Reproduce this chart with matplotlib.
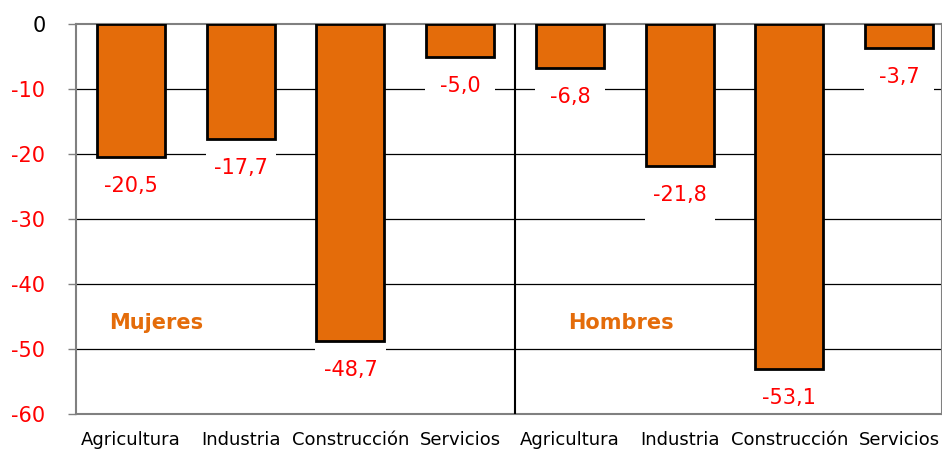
import numpy as np
import matplotlib
matplotlib.use("Agg")
import matplotlib.pyplot as plt

plt.rcParams['font.family'] = ['DejaVu Sans']

# data
sectors = ['Agricultura', 'Industria', 'Construcción', 'Servicios']
labels = sectors + sectors
mujeres = [-20.5, -17.7, -48.7, -5.0]
hombres = [-6.8, -21.8, -53.1, -3.7]
values = np.array(mujeres + hombres)
value_text = ['-20,5', '-17,7', '-48,7', '-5,0', '-6,8', '-21,8', '-53,1', '-3,7']
yticks = [0, -10, -20, -30, -40, -50, -60]

orange = '#E46C0A'
grey = '#808080'

fig = plt.figure(figsize=(9.42, 4.5), dpi=100)
ax = fig.add_axes([76 / 942, 36 / 450, 866 / 942, 390 / 450])

x = np.arange(len(values))
width = 0.62

# grid lines
for t in yticks[1:-1]:
    ax.axhline(t, color='black', lw=0.9, zorder=1)

# white boxes behind the value labels
ax.bar(x, -8.0, bottom=values - 0.5, width=width + 0.02, color='white', zorder=2)

ax.bar(x, values, width=width, color=orange, edgecolor='black', lw=2, zorder=3)

for xi, v, t in zip(x, values, value_text):
    ax.annotate(t, (xi, v), xytext=(0, -29), textcoords='offset pixels',
                ha='center', va='center', color='red', fontsize=15, zorder=4)

# separator between groups
ax.axvline(3.5, color='black', lw=1.5, zorder=3)

ax.text(-0.2, -46, 'Mujeres', color=orange, fontsize=15, fontweight='bold',
        ha='left', va='center')
ax.text(3.98, -46, 'Hombres', color=orange, fontsize=15, fontweight='bold',
        ha='left', va='center')

ax.set_xlim(-0.5, 7.39)
ax.set_ylim(-60, 0)
ax.set_yticks(yticks)
ax.set_yticklabels([str(t) for t in yticks], fontsize=15)
for i, lab in enumerate(ax.get_yticklabels()):
    lab.set_color('black' if i == 0 else 'red')
ax.tick_params(axis='y', length=6, width=1, color=grey, pad=16)

ax.set_xticks(x)
ax.set_xticklabels(labels, fontsize=13)
ax.tick_params(axis='x', length=0, pad=12)

for s in ax.spines.values():
    s.set_color(grey)
    s.set_linewidth(1.5)

fig.savefig('out.png', dpi=100)
